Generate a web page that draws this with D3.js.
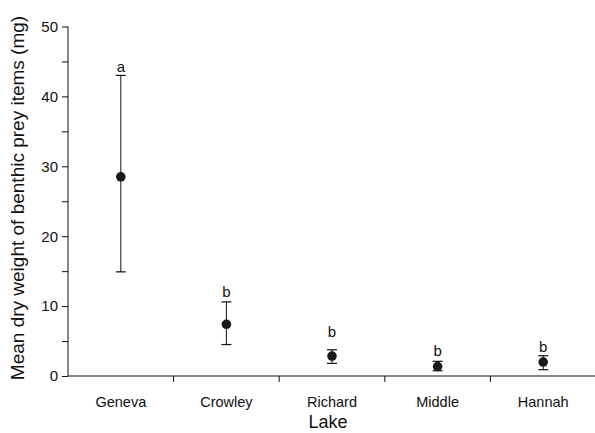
<!DOCTYPE html>
<html>
<head>
<meta charset="utf-8">
<script src="https://cdn.jsdelivr.net/npm/d3@7"></script>
<style>
  body { margin: 0; background: #fff; }
  text { font-family: "Liberation Sans", Arial, sans-serif; fill: #111; }
</style>
</head>
<body>
<div id="chart"></div>
<script>
const width = 595;
const height = 433;

// data
const lakes = ["Geneva", "Crowley", "Richard", "Middle", "Hannah"];
const means = [28.5, 7.4, 2.85, 1.35, 2.0];
const upper = [43.0, 10.6, 3.75, 2.1, 2.9];
const lower = [14.9, 4.5, 1.8, 0.75, 0.9];
const letters = ["a", "b", "b", "b", "b"];
const letterAt = [43.5, 11.3, 5.6, 2.9, 3.4];
const yTicks = [0, 5, 10, 15, 20, 25, 30, 35, 40, 45, 50];

const svg = d3
  .select("#chart")
  .append("svg")
  .attr("width", width)
  .attr("height", height);

const x = d3.scaleBand().domain(lakes).range([68, 596]);
const y = d3.scaleLinear().domain([0, 50]).range([376, 26.5]);

// y axis
const yAxis = d3
  .axisLeft(y)
  .tickValues(yTicks)
  .tickSize(6)
  .tickPadding(4)
  .tickFormat((d) => (d % 10 === 0 ? d : ""));

const gy = svg.append("g").attr("transform", "translate(68,0)").call(yAxis);
gy.select(".domain").attr("d", `M0,${y(50)}V${y(0)}`);
gy.selectAll("text").style("font-size", "15px");

// x axis
const xAxis = d3.axisBottom(x).tickSize(0).tickPadding(21);
const gx = svg.append("g").attr("transform", "translate(0,376)").call(xAxis);
gx.select(".domain").attr("d", "M68,0H596");
gx.selectAll("text").style("font-size", "14.5px");

gx.selectAll(".sep")
  .data(lakes.slice(1))
  .join("line")
  .attr("class", "sep")
  .attr("x1", (d) => x(d))
  .attr("x2", (d) => x(d))
  .attr("y1", 0)
  .attr("y2", 6)
  .attr("stroke", "#111");

svg.selectAll(".domain, .tick line").attr("stroke", "#111");

// error bars
const cx = (i) => x(lakes[i]) + x.bandwidth() / 2;
const idx = d3.range(lakes.length);

svg
  .selectAll(".bar")
  .data(idx)
  .join("line")
  .attr("class", "bar")
  .attr("x1", cx)
  .attr("x2", cx)
  .attr("y1", (i) => y(upper[i]))
  .attr("y2", (i) => y(lower[i]))
  .attr("stroke", "#111")
  .attr("stroke-width", 1);

[upper, lower].forEach((arr) => {
  svg
    .append("g")
    .selectAll("line")
    .data(idx)
    .join("line")
    .attr("x1", (i) => cx(i) - 5)
    .attr("x2", (i) => cx(i) + 5)
    .attr("y1", (i) => y(arr[i]))
    .attr("y2", (i) => y(arr[i]))
    .attr("stroke", "#111")
    .attr("stroke-width", 1.2);
});

svg
  .selectAll(".pt")
  .data(idx)
  .join("circle")
  .attr("class", "pt")
  .attr("cx", cx)
  .attr("cy", (i) => y(means[i]))
  .attr("r", 4.8)
  .attr("fill", "#1a1a1a");

svg
  .selectAll(".lbl")
  .data(idx)
  .join("text")
  .attr("class", "lbl")
  .attr("x", cx)
  .attr("y", (i) => y(letterAt[i]))
  .attr("text-anchor", "middle")
  .style("font-size", "15px")
  .text((i) => letters[i]);

// axis titles
svg
  .append("text")
  .attr("x", 328)
  .attr("y", 428)
  .attr("text-anchor", "middle")
  .style("font-size", "18px")
  .text("Lake");

svg
  .append("text")
  .attr("transform", "translate(24,198) rotate(-90)")
  .attr("text-anchor", "middle")
  .style("font-size", "19px")
  .text("Mean dry weight of benthic prey items (mg)");
</script>
</body>
</html>
